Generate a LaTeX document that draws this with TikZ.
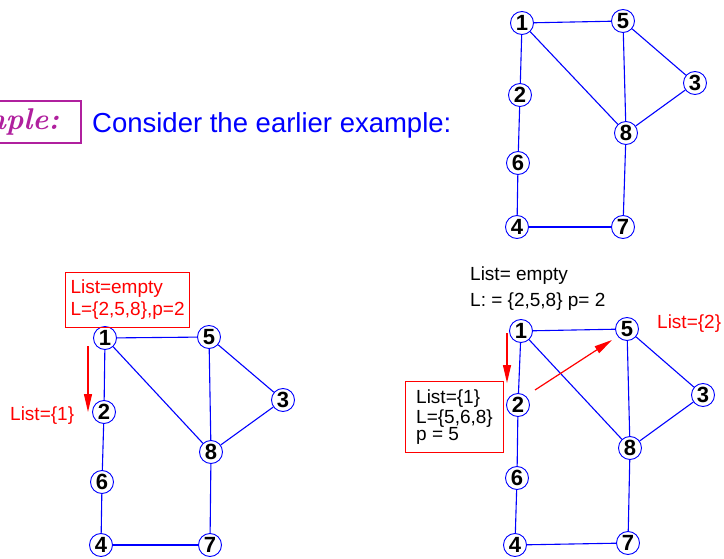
\documentclass[tikz,border=0pt]{standalone}
\usepackage{fontspec}
\newfontfamily\hv{Liberation Sans}
\usetikzlibrary{arrows.meta}
\definecolor{exmag}{RGB}{176,32,158}
\tikzset{
  vx/.style={circle,draw=blue,line width=0.9pt,fill=white,minimum size=23pt,inner sep=0pt,
    font=\hv\fontsize{22}{22}\selectfont\bfseries},
  ed/.style={draw=blue,line width=1.1pt},
  redarr/.style={draw=red,line width=1.2pt,-{Triangle[length=18pt,width=8pt]},red},
  lbl/.style={font=\hv\fontsize{19}{20}\selectfont,inner sep=0pt,anchor=base west},
  redbox/.style={draw=red,line width=1pt,anchor=north west,align=left,
    font=\hv\fontsize{19}{22}\selectfont},
}
\begin{document}
\begin{tikzpicture}[x=1pt,y=-1pt]
\useasboundingbox (0,0) rectangle (724,559);
% header
\node[draw=exmag,line width=2pt,anchor=east,inner xsep=22pt,minimum height=42pt,
  text=exmag,font=\fontsize{30}{30}\selectfont\bfseries\itshape] (ex) at (82,122) {Example:};
\node[anchor=base west,inner sep=0pt,text=blue,font=\hv\fontsize{27.5}{28}\selectfont] (cons) at (92,133) {Consider the earlier example:};
% top graph
\node[vx] (T1) at (522,23) {1};
\node[vx] (T5) at (623,21) {5};
\node[vx] (T3) at (695,83) {3};
\node[vx] (T2) at (520,95) {2};
\node[vx] (T8) at (626,133) {8};
\node[vx] (T6) at (518,163) {6};
\node[vx] (T4) at (517,227) {4};
\node[vx] (T7) at (623,227) {7};
% left graph
\node[vx] (L1) at (105,338) {1};
\node[vx] (L5) at (209,337) {5};
\node[vx] (L3) at (283,400) {3};
\node[vx] (L2) at (104,412) {2};
\node[vx] (L8) at (211,452) {8};
\node[vx] (L6) at (102,482) {6};
\node[vx] (L4) at (101,545) {4};
\node[vx] (L7) at (210,545) {7};
% right graph
\node[vx] (R1) at (521,331) {1};
\node[vx] (R5) at (627,329) {5};
\node[vx] (R3) at (703,395) {3};
\node[vx] (R2) at (518,405) {2};
\node[vx] (R8) at (630,448) {8};
\node[vx] (R6) at (517,478) {6};
\node[vx] (R4) at (515,545) {4};
\node[vx] (R7) at (628,543) {7};
\foreach \g in {T,L,R}{
  \draw[ed] (\g1)--(\g5);
  \draw[ed] (\g1)--(\g2);
  \draw[ed] (\g1)--(\g8);
  \draw[ed] (\g5)--(\g8);
  \draw[ed] (\g5)--(\g3);
  \draw[ed] (\g3)--(\g8);
  \draw[ed] (\g2)--(\g6);
  \draw[ed] (\g6)--(\g4);
  \draw[ed] (\g4)--(\g7);
  \draw[ed] (\g7)--(\g8);
}
% left annotations
\node[redbox,text=red,inner xsep=5pt,inner ysep=6pt,
  minimum width=124pt,minimum height=55pt] (lbox) at (65,272) {List=empty\\L=\{2,5,8\},p=2};
\node[lbl,text=red] (llist) at (10,420) {List=\{1\}};
\coordinate (la) at (88,346);
\coordinate (lb) at (88,412);
\draw[redarr] (la) -- (lb);
% right annotations
\node[lbl] (rt1) at (470,281) {List= empty};
\node[lbl] (rt2) at (470,307) {L: = \{2,5,8\} p= 2};
\node[lbl,text=red] (rt3) at (657,328) {List=\{2\}};
\node[redbox,text=black,inner xsep=9pt,inner ysep=8pt,
  minimum width=98pt,minimum height=70pt,
  font=\hv\fontsize{19}{20}\selectfont] (rbox) at (405,381) {List=\{1\}\\L=\{5,6,8\}\\[-3pt]p = 5};
\coordinate (ra) at (507,333);
\coordinate (rb) at (507,383);
\draw[redarr] (ra) -- (rb);
\coordinate (rc) at (535,390);
\coordinate (rd) at (612,340);
\draw[redarr] (rc) -- (rd);
\end{tikzpicture}
\end{document}
